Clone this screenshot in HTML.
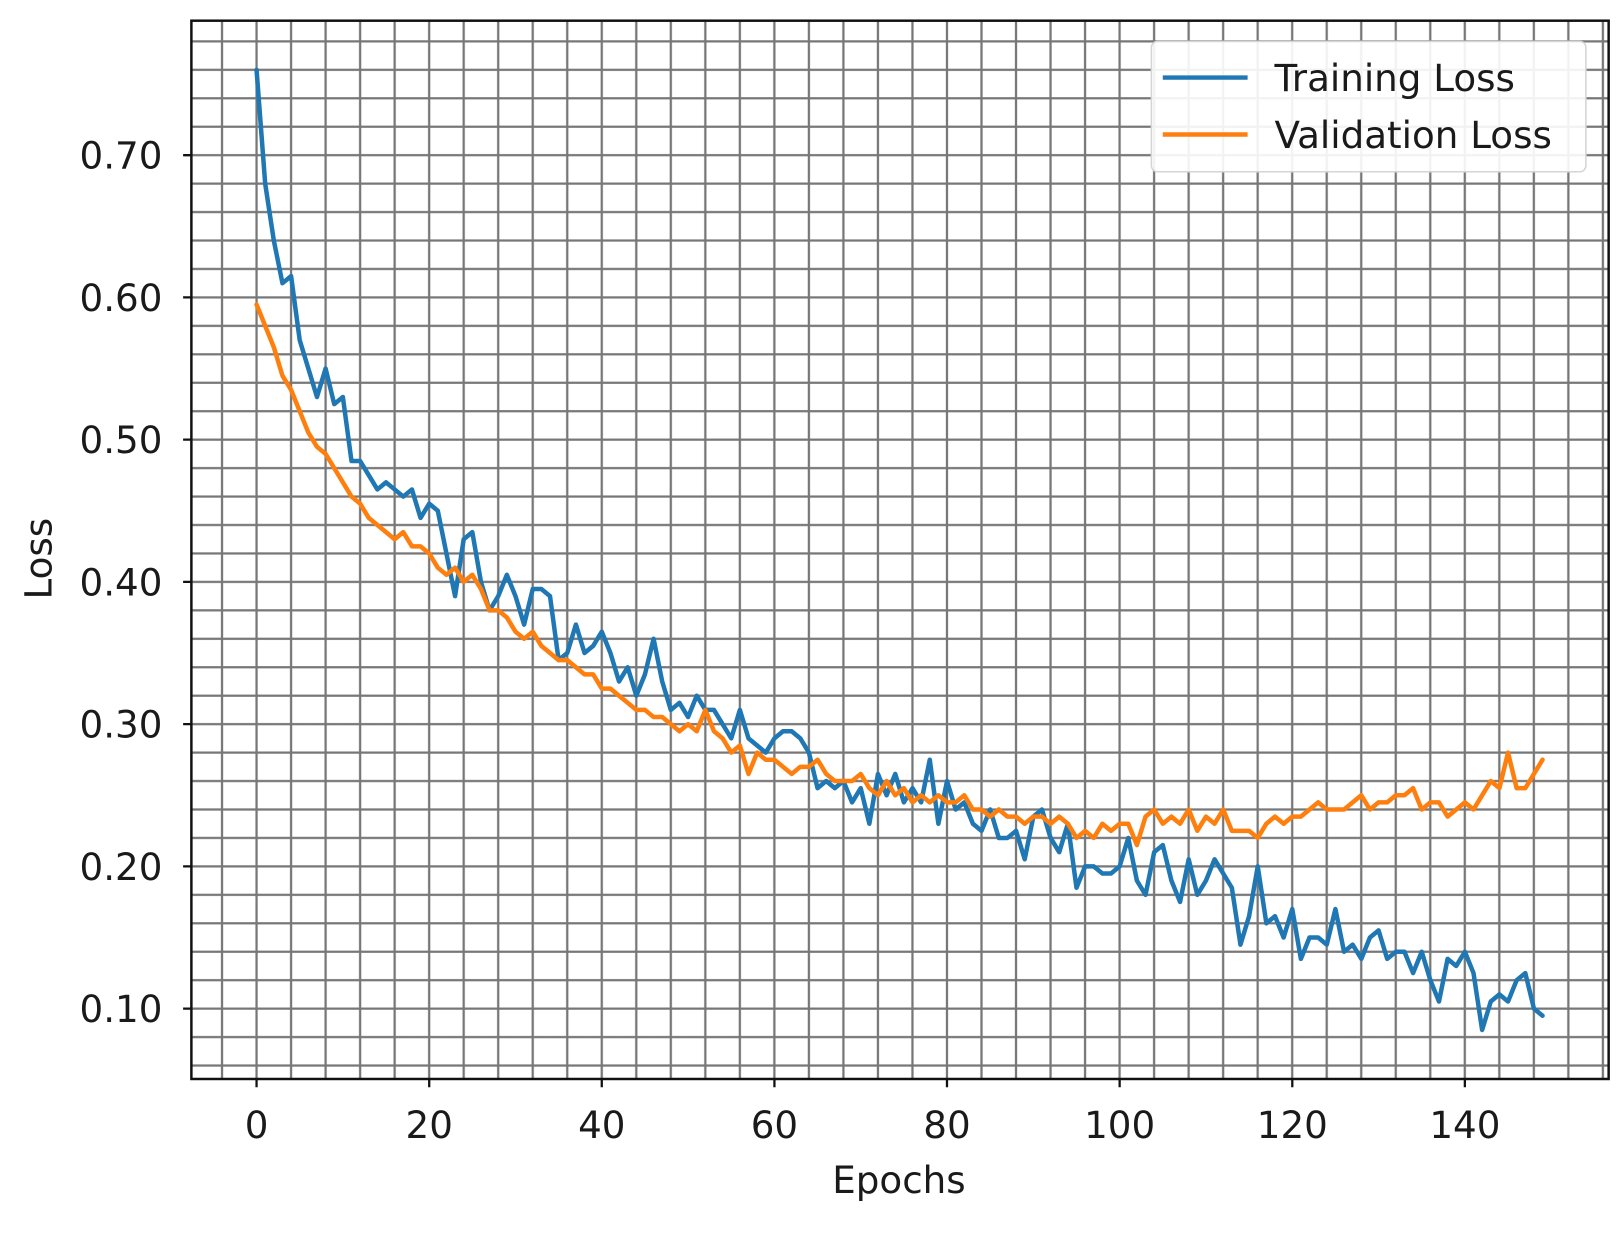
<!DOCTYPE html>
<html><head><meta charset="utf-8"><style>
html,body{margin:0;padding:0;background:#fff;}
svg{display:block}
text{font-family:"DejaVu Sans","Liberation Sans",sans-serif;fill:#1a1a1a;font-size:36px}
</style></head><body>
<svg width="1622" height="1233" viewBox="0 0 1622 1233" xmlns="http://www.w3.org/2000/svg">
<defs>
<pattern id="g" patternUnits="userSpaceOnUse" x="231.315" y="961.25" width="33.37" height="27.5">
<path d="M16.685 0V27.5M0 13.75H33.37" stroke="#777" stroke-width="2.2" fill="none"/>
</pattern>
<clipPath id="c"><rect x="185" y="20" width="1370" height="1023"/></clipPath>
</defs>
<g transform="scale(1.0345)">
<rect x="0" y="0" width="1568" height="1192" fill="#fff"/>
<rect x="185" y="20" width="1370" height="1023" fill="url(#g)"/>
<g clip-path="url(#c)" fill="none" stroke-linejoin="round" stroke-linecap="round">
<polyline vector-effect="non-scaling-stroke" stroke="#1f77b4" stroke-width="4.5" transform="matrix(8.343 0 0 -1375 248 1112.5)" points="0,.76 1,.68 2,.64 3,.61 4,.615 5,.57 6,.55 7,.53 8,.55 9,.525 10,.53 11,.485 12,.485 13,.475 14,.465 15,.47 16,.465 17,.46 18,.465 19,.445 20,.455 21,.45 22,.42 23,.39 24,.43 25,.435 26,.40 27,.38 28,.39 29,.405 30,.39 31,.37 32,.395 33,.395 34,.39 35,.345 36,.35 37,.37 38,.35 39,.355 40,.365 41,.35 42,.33 43,.34 44,.32 45,.335 46,.36 47,.33 48,.31 49,.315 50,.305 51,.32 52,.31 53,.31 54,.30 55,.29 56,.31 57,.29 58,.285 59,.28 60,.29 61,.295 62,.295 63,.29 64,.28 65,.255 66,.26 67,.255 68,.26 69,.245 70,.255 71,.23 72,.265 73,.25 74,.265 75,.245 76,.255 77,.245 78,.275 79,.23 80,.26 81,.24 82,.245 83,.23 84,.225 85,.24 86,.22 87,.22 88,.225 89,.205 90,.235 91,.24 92,.22 93,.21 94,.23 95,.185 96,.20 97,.20 98,.195 99,.195 100,.20 101,.22 102,.19 103,.18 104,.21 105,.215 106,.19 107,.175 108,.205 109,.18 110,.19 111,.205 112,.195 113,.185 114,.145 115,.165 116,.20 117,.16 118,.165 119,.15 120,.17 121,.135 122,.15 123,.15 124,.145 125,.17 126,.14 127,.145 128,.135 129,.15 130,.155 131,.135 132,.14 133,.14 134,.125 135,.14 136,.12 137,.105 138,.135 139,.13 140,.14 141,.125 142,.085 143,.105 144,.11 145,.105 146,.12 147,.125 148,.10 149,.095"/>
<polyline vector-effect="non-scaling-stroke" stroke="#ff7f0e" stroke-width="4.5" transform="matrix(8.343 0 0 -1375 248 1112.5)" points="0,.595 1,.58 2,.565 3,.545 4,.535 5,.52 6,.505 7,.495 8,.49 9,.48 10,.47 11,.46 12,.455 13,.445 14,.44 15,.435 16,.43 17,.435 18,.425 19,.425 20,.42 21,.41 22,.405 23,.41 24,.40 25,.405 26,.395 27,.38 28,.38 29,.375 30,.365 31,.36 32,.365 33,.355 34,.35 35,.345 36,.345 37,.34 38,.335 39,.335 40,.325 41,.325 42,.32 43,.315 44,.31 45,.31 46,.305 47,.305 48,.30 49,.295 50,.30 51,.295 52,.31 53,.295 54,.29 55,.28 56,.285 57,.265 58,.28 59,.275 60,.275 61,.27 62,.265 63,.27 64,.27 65,.275 66,.265 67,.26 68,.26 69,.26 70,.265 71,.255 72,.25 73,.26 74,.25 75,.255 76,.245 77,.25 78,.245 79,.25 80,.245 81,.245 82,.25 83,.24 84,.24 85,.235 86,.24 87,.235 88,.235 89,.23 90,.235 91,.235 92,.23 93,.235 94,.23 95,.22 96,.225 97,.22 98,.23 99,.225 100,.23 101,.23 102,.215 103,.235 104,.24 105,.23 106,.235 107,.23 108,.24 109,.225 110,.235 111,.23 112,.24 113,.225 114,.225 115,.225 116,.22 117,.23 118,.235 119,.23 120,.235 121,.235 122,.24 123,.245 124,.24 125,.24 126,.24 127,.245 128,.25 129,.24 130,.245 131,.245 132,.25 133,.25 134,.255 135,.24 136,.245 137,.245 138,.235 139,.24 140,.245 141,.24 142,.25 143,.26 144,.255 145,.28 146,.255 147,.255 148,.265 149,.275"/>
</g>
<rect x="185" y="20" width="1370" height="1023" fill="none" stroke="#111" stroke-width="2.4"/>
<g stroke="#111" stroke-width="2.2">
<path d="M248 1043v8M414.9 1043v8M581.7 1043v8M748.6 1043v8M915.4 1043v8M1082.3 1043v8M1249.2 1043v8M1416 1043v8"/>
<path d="M185 150h-8M185 287.5h-8M185 425h-8M185 562.5h-8M185 700h-8M185 837.5h-8M185 975h-8"/>
</g>
<g text-anchor="end">
<text x="157" y="163">0.70</text><text x="157" y="300.5">0.60</text><text x="157" y="438">0.50</text><text x="157" y="575.5">0.40</text><text x="157" y="713">0.30</text><text x="157" y="850.5">0.20</text><text x="157" y="988">0.10</text>
</g>
<g text-anchor="middle">
<text x="248" y="1100">0</text><text x="414.9" y="1100">20</text><text x="581.7" y="1100">40</text><text x="748.6" y="1100">60</text><text x="915.4" y="1100">80</text><text x="1082.3" y="1100">100</text><text x="1249.2" y="1100">120</text><text x="1416" y="1100">140</text>
<text x="869" y="1153">Epochs</text>
<text transform="translate(50,540) rotate(-90)">Loss</text>
</g>
<rect x="1113" y="40" width="420" height="126" rx="6" fill="#fff" fill-opacity="0.9" stroke="#d5d5d5" stroke-width="1.5"/>
<path d="M1124 75h82" stroke="#1f77b4" stroke-width="4.3"/>
<path d="M1124 130h82" stroke="#ff7f0e" stroke-width="4.3"/>
<text x="1232" y="88">Training Loss</text>
<text x="1232" y="143">Validation Loss</text>
</g>
</svg>
</body></html>
